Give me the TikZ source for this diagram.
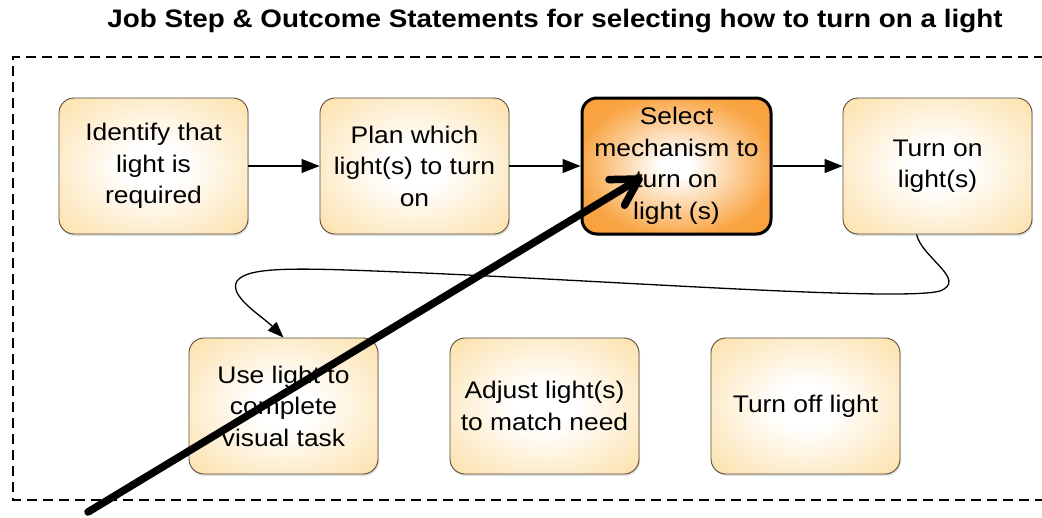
\documentclass[tikz,border=0pt]{standalone}
\usepackage{fontspec}
\setmainfont{Liberation Sans}[FakeStretch=1.1]
\usetikzlibrary{arrows.meta,shadows,calc}
\definecolor{boxedge}{HTML}{5A4A3A}
\definecolor{paleorange}{HTML}{FCE2AE}
\definecolor{paleorangedeep}{HTML}{FBDA9C}
\definecolor{deeporange}{HTML}{F9A544}
\definecolor{deeporangedark}{HTML}{F7982C}
% soft radial glows for the step boxes
\pgfdeclareradialshading{paleglow}{\pgfpoint{0bp}{0bp}}{%
  color(0bp)=(white); color(8bp)=(white); color(34bp)=(paleorange);
  color(50bp)=(paleorangedeep); color(72bp)=(paleorangedeep)}
\pgfdeclareradialshading{hotglow}{\pgfpoint{0bp}{0bp}}{%
  color(0bp)=(white); color(4bp)=(white); color(26bp)=(deeporange);
  color(45bp)=(deeporangedark); color(72bp)=(deeporangedark)}
\tikzset{
  stepbox/.style={draw=boxedge, line width=0.9pt, rounded corners=15pt,
    minimum width=189pt, minimum height=136pt, inner sep=0pt,
    shading=paleglow, align=center,
    font=\fontsize{24}{31.5}\selectfont,
    drop shadow={opacity=0.25, shadow xshift=1pt, shadow yshift=-2pt}},
  keybox/.style={stepbox, draw=black, line width=3pt, shading=hotglow},
  flow/.style={line width=1.2pt, -{Triangle[length=18pt,width=14pt]}},
  loopflow/.style={line width=1.3pt, -{Triangle[length=16pt,width=12pt]}},
  pointer/.style={line width=7.5pt, line cap=round, line join=round},
}
\begin{document}
\begin{tikzpicture}[x=1pt,y=-1pt]
\useasboundingbox (0,0) rectangle (1042,517);

% title
\node[anchor=base, font=\fontsize{25.3}{30}\selectfont\bfseries] (title) at (555,27)
  {Job Step \& Outcome Statements for selecting how to turn on a light};

% dashed frame, open on the right
\draw[line width=1.5pt, dash pattern=on 10pt off 6pt]
  (1060,57) -- (13,57) -- (13,500) -- (1060,500);

% top row of job steps
\node[stepbox] (n1) at (153.5,166) {Identify that\\light is\\required};
\node[stepbox] (n2) at (414.5,166) {Plan which\\light(s) to turn\\on};
\node[keybox] (n3) at (676.5,166) {Select\\mechanism to\\turn on\\light (s)};
\node[stepbox] (n4) at (937.5,166) {Turn on\\light(s)};

% bottom row of job steps
\node[stepbox] (n5) at (283.5,406) {Use light to\\complete\\visual task};
\node[stepbox] (n6) at (544.5,406) {Adjust light(s)\\to match need};
\node[stepbox] (n7) at (805.5,406) {Turn off light};

% sequence arrows
\draw[flow] (n1) -- (n2);
\draw[flow] (n2) -- (n3);
\draw[flow] (n3) -- (n4);

% wrap-around connector to the second row
\coordinate (loopstart) at ($(n4.south)+(-21,0)$);
\draw[loopflow] (loopstart)
  .. controls (922,258) and (968,280) .. (940,291)
  .. controls (900,302) and (600,280) .. (400,272)
  .. controls (300,268) and (248,266) .. (237,281)
  .. controls (228,296) and (262,316) .. (n5.north);

% heavy pointer across the diagram
\coordinate (ptail) at (88,512);
\coordinate (ptip) at (639,179);
\coordinate (pbarbA) at ($(ptip)!30pt!30:(ptail)$);
\coordinate (pbarbB) at ($(ptip)!30pt!-30:(ptail)$);
\begin{scope}[shift={(2,3)}, opacity=0.25, gray]
  \draw[pointer] (ptail) -- (ptip);
  \draw[pointer] (pbarbA) -- (ptip) -- (pbarbB);
\end{scope}
\draw[pointer] (ptail) -- (ptip);
\draw[pointer] (pbarbA) -- (ptip) -- (pbarbB);
\end{tikzpicture}
\end{document}
